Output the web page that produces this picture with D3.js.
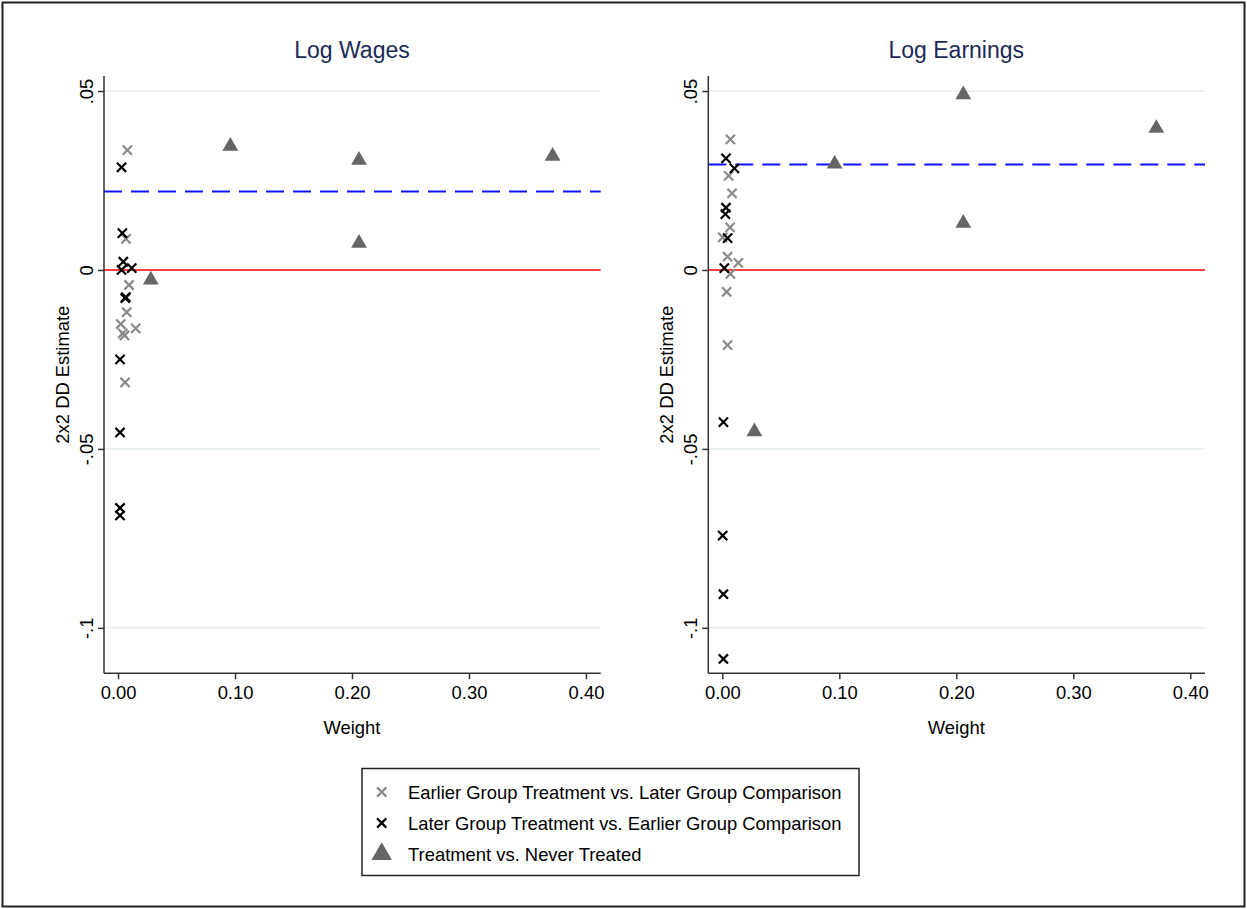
<!DOCTYPE html>
<html>
<head>
<meta charset="utf-8">
<script src="https://cdn.jsdelivr.net/npm/d3@7"></script>
<style>
body { margin: 0; background: #fff; }
svg { display: block; font-family: "Liberation Sans", Arial, sans-serif; }
</style>
</head>
<body>
<div id="chart"></div>
<script>
var W = 1247, H = 909;

// panel titles and axis ticks
var panelTitles = ["Log Wages", "Log Earnings"];
var xTicks = [0, 0.1, 0.2, 0.3, 0.4];
var yTicks = [0.05, 0, -0.05, -0.1];
var yTickLabels = [".05", "0", "-.05", "-.1"];
var legendLabels = [
    "Earlier Group Treatment vs. Later Group Comparison",
    "Later Group Treatment vs. Earlier Group Comparison",
    "Treatment vs. Never Treated"
];

// Log Wages: [weight, estimate]
var wagesEarlier = [
    [0.008, 0.0335], [0.0068, 0.0087], [0.0094, -0.0042], [0.0074, -0.0118],
    [0.0023, -0.0151], [0.0151, -0.0163], [0.0040, -0.0177], [0.0055, -0.0183],
    [0.006, -0.0314]
];
var wagesLater = [
    [0.003, 0.0287], [0.0037, 0.0103], [0.0045, 0.0023], [0.003, 0.0],
    [0.0117, 0.0005], [0.0066, -0.0076], [0.0062, -0.0079], [0.0017, -0.025],
    [0.0017, -0.0454], [0.0017, -0.0665], [0.0017, -0.0686]
];
var wagesNever = [
    [0.028, -0.0028], [0.096, 0.0346], [0.206, 0.0307], [0.206, 0.0075], [0.3715, 0.0318]
];
var wagesMean = 0.0219;

// Log Earnings: [weight, estimate]
var earnEarlier = [
    [0.0069, 0.0365], [0.0054, 0.0263], [0.0083, 0.0214], [0.0066, 0.0119],
    [0.0003, 0.0091], [0.0045, 0.0037], [0.0137, 0.0020], [0.0069, -0.0011],
    [0.0037, -0.0061], [0.0045, -0.021]
];
var earnLater = [
    [0.0031, 0.0312], [0.0103, 0.0284], [0.0031, 0.0174], [0.0026, 0.0156],
    [0.0045, 0.0089], [0.0017, 0.0005], [0.0009, -0.0425], [0.0003, -0.0742],
    [0.0009, -0.0906], [0.0009, -0.1087]
];
var earnNever = [
    [0.0274, -0.0452], [0.096, 0.0296], [0.206, 0.049], [0.206, 0.0131], [0.371, 0.0396]
];
var earnMean = 0.0295;

var panels = [
    { title: panelTitles[0], earlier: wagesEarlier, later: wagesLater, never: wagesNever, mean: wagesMean, x0: 104 },
    { title: panelTitles[1], earlier: earnEarlier, later: earnLater, never: earnNever, mean: earnMean, x0: 708.3 }
];

var svg = d3.select('#chart').append('svg')
    .attr('width', W)
    .attr('height', H);

svg.append('rect')
    .attr('x', 2.5).attr('y', 2.5)
    .attr('width', W - 5).attr('height', H - 5)
    .attr('fill', 'white')
    .attr('stroke', '#222')
    .attr('stroke-width', 2);

var PLOT_W = 496.7, TOP = 76, BOTTOM = 673.3;
var FS = 18.4;

var y = d3.scaleLinear()
    .domain([-0.1127, 0.0542])
    .range([BOTTOM, TOP]);

// stata-style x marker, drawn as stroke
var CROSS = 'M-4.6,-4.6L4.6,4.6M-4.6,4.6L4.6,-4.6';
var tri = d3.symbol().type(d3.symbolTriangle).size(108);

function addCrosses(g, data, x, color) {
    g.selectAll(null)
        .data(data).enter()
        .append('path')
        .attr('d', CROSS)
        .attr('transform', function(d) { return 'translate(' + x(d[0]) + ',' + y(d[1]) + ')'; })
        .attr('fill', 'none')
        .attr('stroke', color)
        .attr('stroke-width', 2.2);
}

panels.forEach(function(p) {
    var x = d3.scaleLinear()
        .domain([-0.012, 0.4126])
        .range([p.x0, p.x0 + PLOT_W]);
    var g = svg.append('g');

    // grid lines
    g.selectAll('.grid')
        .data(yTicks.filter(function(t) { return t !== 0; })).enter()
        .append('line')
        .attr('x1', x.range()[0]).attr('x2', x.range()[1])
        .attr('y1', function(d) { return y(d); })
        .attr('y2', function(d) { return y(d); })
        .attr('stroke', '#eaf1f2')
        .attr('stroke-width', 2);

    // zero line
    g.append('line')
        .attr('x1', x.range()[0]).attr('x2', x.range()[1])
        .attr('y1', y(0)).attr('y2', y(0))
        .attr('stroke', '#ff0000')
        .attr('stroke-width', 1.6);

    // mean dashed line
    g.append('line')
        .attr('x1', x.range()[0]).attr('x2', x.range()[1])
        .attr('y1', y(p.mean)).attr('y2', y(p.mean))
        .attr('stroke', '#1010ff')
        .attr('stroke-width', 2)
        .attr('stroke-dasharray', '18,9');

    // axes
    var yAxis = d3.axisLeft(y)
        .tickValues(yTicks)
        .tickSize(6)
        .tickFormat(function(d, i) { return yTickLabels[i]; });
    var ya = g.append('g')
        .attr('transform', 'translate(' + x.range()[0] + ',0)')
        .call(yAxis);
    ya.select('.domain').attr('d', 'M0,' + TOP + 'V' + BOTTOM).attr('stroke', '#333').attr('stroke-width', 1.5);
    ya.selectAll('.tick line').attr('stroke', '#333').attr('stroke-width', 1.5);
    ya.selectAll('.tick text')
        .attr('font-size', FS)
        .attr('fill', '#000')
        .attr('x', null).attr('dy', null)
        .attr('text-anchor', 'middle')
        .attr('transform', 'translate(-11,0) rotate(-90)');

    var xAxis = d3.axisBottom(x)
        .tickValues(xTicks)
        .tickSize(6)
        .tickFormat(d3.format('.2f'));
    var xa = g.append('g')
        .attr('transform', 'translate(0,' + BOTTOM + ')')
        .call(xAxis);
    xa.select('.domain').attr('d', 'M' + x.range()[0] + ',0H' + x.range()[1]).attr('stroke', '#333').attr('stroke-width', 1.5);
    xa.selectAll('.tick line').attr('stroke', '#333').attr('stroke-width', 1.5);
    xa.selectAll('.tick text')
        .attr('font-size', FS)
        .attr('fill', '#000')
        .attr('y', 26)
        .attr('dy', '0');

    // titles and axis labels
    g.append('text')
        .attr('x', x(0.2)).attr('y', 58)
        .attr('text-anchor', 'middle')
        .attr('font-size', 23)
        .attr('fill', '#1b2a58')
        .text(p.title);
    g.append('text')
        .attr('x', x(0.2)).attr('y', 733.5)
        .attr('text-anchor', 'middle')
        .attr('font-size', FS)
        .attr('fill', '#000')
        .text('Weight');
    g.append('text')
        .attr('transform', 'translate(' + (x.range()[0] - 35) + ',' + ((TOP + BOTTOM) / 2) + ') rotate(-90)')
        .attr('text-anchor', 'middle')
        .attr('font-size', FS)
        .attr('fill', '#000')
        .text('2x2 DD Estimate');

    // points
    addCrosses(g, p.earlier, x, '#8a8a8a');
    addCrosses(g, p.later, x, '#000');
    g.selectAll(null)
        .data(p.never).enter()
        .append('path')
        .attr('d', tri)
        .attr('transform', function(d) { return 'translate(' + x(d[0]) + ',' + y(d[1]) + ')'; })
        .attr('fill', '#666');
});

// legend
var leg = svg.append('g');
leg.append('rect')
    .attr('x', 362).attr('y', 768.5)
    .attr('width', 497).attr('height', 107)
    .attr('fill', 'white')
    .attr('stroke', '#222')
    .attr('stroke-width', 1.5);
var legColors = ['#8a8a8a', '#000'];
legendLabels.forEach(function(lab, i) {
    var ly = 792 + i * 31;
    if (i < 2) {
        leg.append('path')
            .attr('d', CROSS)
            .attr('transform', 'translate(381.7,' + ly + ')')
            .attr('fill', 'none')
            .attr('stroke', legColors[i])
            .attr('stroke-width', 2.2);
    } else {
        leg.append('path')
            .attr('d', tri)
            .attr('transform', 'translate(381.7,' + ly + ') scale(1.3)')
            .attr('fill', '#666');
    }
    leg.append('text')
        .attr('x', 408).attr('y', ly + 6.5)
        .attr('font-size', FS)
        .attr('fill', '#000')
        .text(lab);
});
</script>
</body>
</html>
